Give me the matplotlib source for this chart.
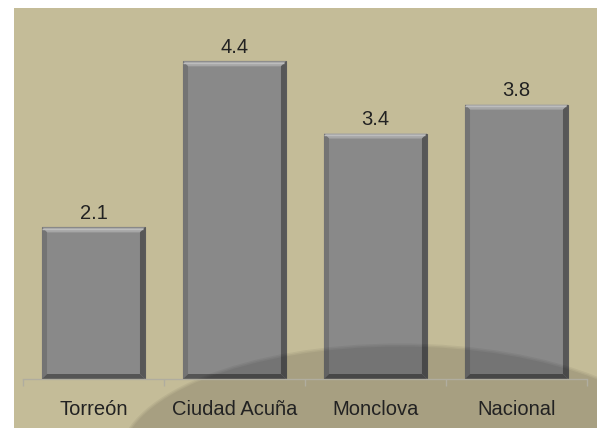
import matplotlib
matplotlib.use("Agg")
import matplotlib.pyplot as plt
from matplotlib.patches import Rectangle, Ellipse, Polygon
from matplotlib.transforms import Affine2D

# data
ciudades = ["Torreón", "Ciudad Acuña", "Monclova", "Nacional"]
valores = [2.1, 4.4, 3.4, 3.8]

plt.rcParams["font.family"] = ["Liberation Sans", "DejaVu Sans"]

W, H = 600, 428
fig = plt.figure(figsize=(W / 100, H / 100), dpi=100, facecolor="white")

# pixel coordinates (origin top-left) -> figure
px = Affine2D().scale(1 / W, -1 / H).translate(0, 1) + fig.transFigure

# beige panel behind the chart
panel = Rectangle((14, 8), 583, 420, transform=px, facecolor="#c4bc98",
                  edgecolor="none", zorder=-1)
fig.patches.append(panel)

ax = fig.add_axes([23 / W, (H - 379) / H, 564 / W, 361 / H])
ax.set_facecolor("none")
ax.set_xlim(-0.5, len(ciudades) - 0.5)
ax.set_ylim(0, 5)

bars = ax.bar(range(len(ciudades)), valores, width=0.73, color="#898989",
              edgecolor="#5a5a5a", linewidth=0.8, zorder=2)

# bevel on each bar (5 px wide)
bx = 5 / 141
by = 5 / 72.2
for b in bars:
    x0, x1 = b.get_x(), b.get_x() + b.get_width()
    y0, y1 = 0, b.get_height()
    caras = [
        ([(x0, y1), (x1, y1), (x1 - bx, y1 - by), (x0 + bx, y1 - by)], "#a6a6a6"),
        ([(x0, y0), (x0, y1), (x0 + bx, y1 - by), (x0 + bx, y0 + by)], "#747474"),
        ([(x1, y0), (x1, y1), (x1 - bx, y1 - by), (x1 - bx, y0 + by)], "#575757"),
        ([(x0, y0), (x1, y0), (x1 - bx, y0 + by), (x0 + bx, y0 + by)], "#555555"),
    ]
    for pts, c in caras:
        ax.add_patch(Polygon(pts, closed=True, facecolor=c, edgecolor="none", zorder=2.5))
    ax.add_patch(Polygon([(x0, y1 - by * 0.35), (x1 - bx * 0.35, y1 - by * 0.35)],
                         closed=False, fill=False, edgecolor="#bdbdbd", lw=1, zorder=2.6))

# value labels
for b, v in zip(bars, valores):
    ax.annotate(f"{v:.1f}", (b.get_x() + b.get_width() / 2, v), xytext=(0, 3),
                textcoords="offset points", ha="center", va="bottom",
                fontsize=14.5, color="#222222", zorder=6)

# darker curved shape over the lower part
for k in range(3):
    e = Ellipse((400, 459), 2 * (280 + 1.5 * (1 - k)), 2 * (114 + 1.5 * (1 - k)),
                transform=px, facecolor="black", edgecolor="none", alpha=0.052, zorder=3)
    ax.add_patch(e)
    e.set_clip_path(panel)

# axis
for s in ["top", "right", "left"]:
    ax.spines[s].set_visible(False)
ax.spines["bottom"].set_color("#b0ad9f")
ax.spines["bottom"].set_linewidth(1)
ax.spines["bottom"].set_zorder(5)
ax.xaxis.set_zorder(5)
ax.set_yticks([])
ax.set_xticks(range(len(ciudades)))
ax.set_xticklabels(ciudades, fontsize=14.5, color="#222222")
ax.tick_params(axis="x", which="major", length=0, pad=15)
ax.set_xticks([i - 0.5 for i in range(len(ciudades) + 1)], minor=True)
ax.tick_params(axis="x", which="minor", length=5, width=1, color="#b0ad9f", direction="out")

fig.savefig("out.png", dpi=100)
